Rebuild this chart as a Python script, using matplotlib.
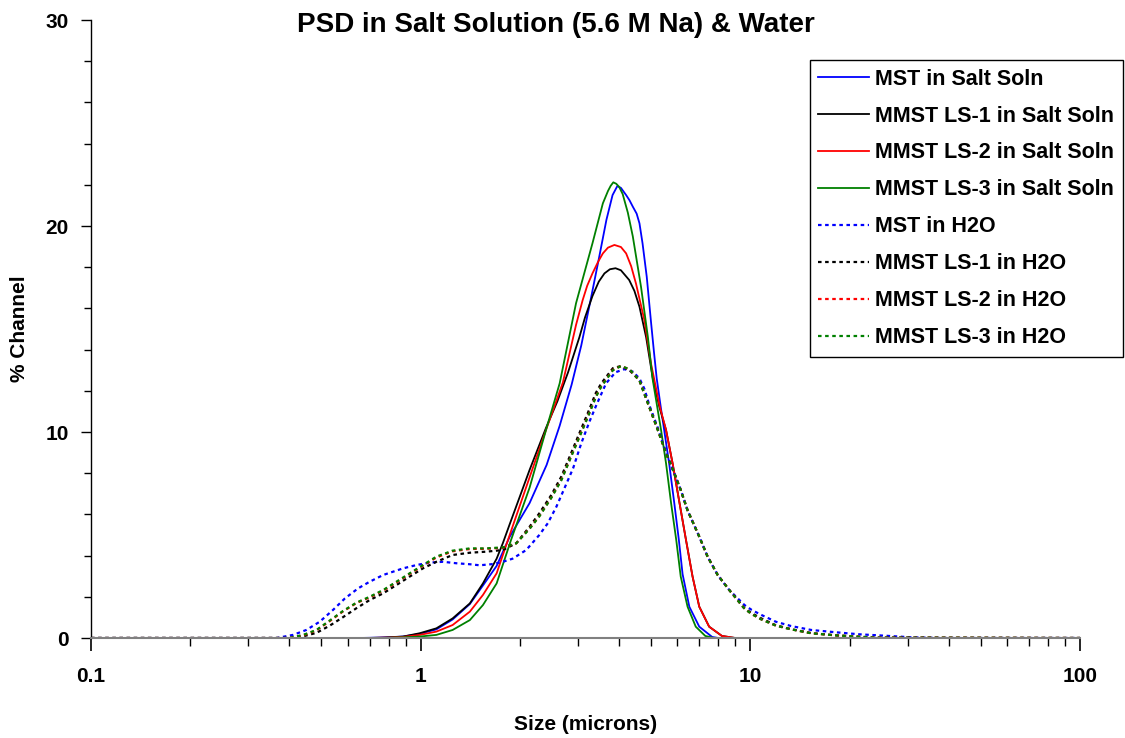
import matplotlib
matplotlib.use('Agg')
import matplotlib.pyplot as plt
from matplotlib.ticker import LogLocator, MultipleLocator, FixedFormatter, FixedLocator

plt.rcParams['font.family'] = ['Liberation Sans', 'DejaVu Sans']
plt.rcParams['font.weight'] = 'bold'

# salt solution runs (solid)
mst_salt_x = [0.1, 0.65, 0.75, 0.884, 0.993, 1.116, 1.25, 1.41, 1.545, 1.70, 1.86, 2.14, 2.41, 2.64, 2.87,
              3.07, 3.3, 3.49, 3.66, 3.82, 3.95, 4.05, 4.2, 4.3, 4.4, 4.52, 4.61, 4.71, 4.85, 5.0,
              5.1, 5.2, 5.35, 5.49, 5.68, 5.88, 6.07, 6.23, 6.53, 7.0, 7.66, 8.0, 100]
mst_salt_y = [0, 0, 0.02, 0.07, 0.2, 0.42, 0.9, 1.65, 2.55, 3.5, 4.9, 6.55, 8.4, 10.3, 12.3,
              14.2, 16.65, 18.6, 20.3, 21.5, 21.94, 21.85, 21.5, 21.25, 20.94, 20.6, 20.13, 19.16, 17.54, 15.3,
              13.9, 12.6, 11.2, 10.0, 8.4, 6.54, 4.76, 3.1, 1.52, 0.55, 0.05, 0, 0]

ls1_salt_x = [0.1, 0.68, 0.78, 0.884, 0.993, 1.116, 1.25, 1.41, 1.545, 1.70, 1.775, 1.86, 2.14, 2.4, 2.6,
              2.8, 3.03, 3.15, 3.32, 3.47, 3.61, 3.75, 3.9, 4.05, 4.29, 4.45, 4.61, 4.83, 5.05, 5.3,
              5.55, 5.81, 6.1, 6.38, 6.68, 7.0, 7.5, 8.2, 9.0, 100]
ls1_salt_y = [0, 0, 0.02, 0.07, 0.23, 0.47, 0.95, 1.68, 2.65, 3.85, 4.6, 5.5, 8.16, 10.2, 11.5,
              12.9, 14.6, 15.55, 16.6, 17.3, 17.7, 17.9, 17.95, 17.85, 17.38, 16.85, 16.08, 14.6, 12.68, 11.2,
              10.1, 8.48, 6.54, 4.76, 2.98, 1.52, 0.55, 0.1, 0, 0]

ls2_salt_x = [0.1, 0.7, 0.8, 0.884, 0.993, 1.116, 1.25, 1.41, 1.545, 1.70, 1.84, 2.14, 2.4, 2.7, 2.96,
              3.1, 3.2, 3.32, 3.45, 3.57, 3.7, 3.87, 4.05, 4.2, 4.35, 4.5, 4.77, 5.0, 5.12, 5.3,
              5.55, 5.81, 6.1, 6.38, 6.68, 7.0, 7.5, 8.2, 9.0, 100]
ls2_salt_y = [0, 0, 0.02, 0.05, 0.15, 0.31, 0.63, 1.28, 2.09, 3.14, 4.76, 7.8, 10.1, 12.4, 15.2,
              16.4, 17.1, 17.7, 18.25, 18.67, 18.95, 19.08, 18.98, 18.67, 18.05, 17.2, 15.44, 13.3, 12.5, 11.3,
              10.1, 8.48, 6.54, 4.76, 2.98, 1.52, 0.55, 0.1, 0, 0]

ls3_salt_x = [0.1, 0.75, 0.884, 0.993, 1.116, 1.25, 1.41, 1.545, 1.70, 1.88, 2.14, 2.4, 2.64, 2.96, 3.32,
              3.57, 3.7, 3.77, 3.84, 3.92, 4.0, 4.1, 4.25, 4.4, 4.66, 4.89, 5.05, 5.36, 5.55, 5.75,
              5.96, 6.15, 6.45, 6.83, 7.3, 7.75, 100]
ls3_salt_y = [0, 0, 0.03, 0.07, 0.15, 0.39, 0.87, 1.6, 2.65, 4.76, 7.3, 10.1, 12.36, 16.25, 19.16,
              21.1, 21.7, 21.95, 22.12, 22.05, 21.9, 21.55, 20.65, 19.5, 17.05, 14.6, 12.6, 10.1, 8.48, 6.54,
              4.76, 2.98, 1.52, 0.55, 0.1, 0, 0]

# water runs (dotted)
mst_h2o_x = [0.1, 0.366, 0.41, 0.45, 0.494, 0.542, 0.589, 0.646, 0.70, 0.77, 0.884, 0.97, 1.065, 1.17, 1.28,
             1.41, 1.51, 1.66, 1.775, 1.9, 2.09, 2.29, 2.43, 2.58, 2.73, 2.9, 3.07, 3.25, 3.41, 3.65,
             3.9, 4.15, 4.4, 4.61, 4.77, 4.94, 5.24, 5.55, 5.88, 6.15, 6.45, 7.0, 7.42, 7.96, 8.63,
             9.6, 10.1, 10.8, 11.95, 13.3, 15.3, 18.1, 21.4, 25.7, 31, 37.3, 100]
mst_h2o_y = [0, 0, 0.15, 0.39, 0.79, 1.36, 1.92, 2.41, 2.73, 3.06, 3.38, 3.54, 3.66, 3.7, 3.63,
             3.58, 3.53, 3.59, 3.7, 3.85, 4.27, 5.0, 5.57, 6.37, 7.27, 8.24, 9.45, 10.5, 11.3, 12.36,
             12.9, 13.05, 12.93, 12.6, 12.1, 11.3, 10.2, 9.0, 8.0, 7.2, 6.2, 4.92, 3.95, 3.06, 2.33,
             1.6, 1.36, 1.12, 0.79, 0.58, 0.39, 0.28, 0.18, 0.11, 0.03, 0, 0]

h2o_x = [0.1, 0.40, 0.44, 0.483, 0.53, 0.58, 0.639, 0.70, 0.77, 0.844, 0.926, 1.016, 1.116, 1.25, 1.41,
         1.58, 1.775, 1.95, 2.14, 2.29, 2.49, 2.67, 2.86, 3.03, 3.21, 3.4, 3.53, 3.83, 4.05, 4.3,
         4.61, 4.94, 5.24, 5.55, 5.88, 6.15, 6.45, 7.0, 7.42, 7.96, 8.63, 9.6, 10.1, 10.8, 11.95,
         13.3, 15.3, 18.1, 21.4, 24, 100]
ls1_h2o_y = [0, 0, 0.08, 0.25, 0.6, 1.0, 1.45, 1.84, 2.17, 2.57, 2.98, 3.38, 3.7, 4.03, 4.14,
             4.19, 4.27, 4.6, 5.4, 6.05, 6.94, 7.83, 8.97, 9.94, 10.9, 11.9, 12.36, 13.1, 13.2, 13.0,
             12.5, 11.2, 10.1, 8.97, 8.0, 7.18, 6.2, 4.92, 3.95, 3.06, 2.33, 1.45, 1.2, 0.95, 0.62,
             0.43, 0.24, 0.13, 0.06, 0.02, 0]
ls2_h2o_y = [0, 0, 0.13, 0.37, 0.82, 1.28, 1.7, 1.97, 2.3, 2.7, 3.11, 3.51, 3.91, 4.21, 4.32,
             4.33, 4.38, 4.6, 5.32, 5.92, 6.82, 7.68, 8.82, 9.78, 10.73, 11.73, 12.22, 13.02, 13.2, 13.04,
             12.5, 11.2, 10.1, 8.97, 8.0, 7.18, 6.2, 4.92, 3.95, 3.06, 2.33, 1.42, 1.16, 0.9, 0.6,
             0.42, 0.23, 0.13, 0.06, 0.02, 0]
ls3_h2o_y = [0, 0, 0.15, 0.39, 0.85, 1.3, 1.72, 2.0, 2.33, 2.73, 3.14, 3.54, 3.95, 4.24, 4.35,
             4.35, 4.4, 4.6, 5.3, 5.9, 6.8, 7.65, 8.8, 9.75, 10.7, 11.7, 12.2, 13.0, 13.2, 13.05,
             12.5, 11.2, 10.1, 8.97, 8.0, 7.18, 6.2, 4.92, 3.95, 3.06, 2.33, 1.42, 1.16, 0.9, 0.6,
             0.42, 0.23, 0.13, 0.06, 0.02, 0]

fig = plt.figure(figsize=(11.25, 7.38), dpi=100)
ax = fig.add_axes([91/1125, 100/738, 989/1125, 618/738])

solid = dict(lw=1.3)
dot = dict(lw=1.6, linestyle=(0, (1.6, 1.6)))
ax.plot(mst_salt_x, mst_salt_y, color='#0000ff', label='MST in Salt Soln', **solid)
ax.plot(ls1_salt_x, ls1_salt_y, color='black', label='MMST LS-1 in Salt Soln', **solid)
ax.plot(ls2_salt_x, ls2_salt_y, color='#ff0000', label='MMST LS-2 in Salt Soln', **solid)
ax.plot(ls3_salt_x, ls3_salt_y, color='#008000', label='MMST LS-3 in Salt Soln', **solid)
ax.plot(mst_h2o_x, mst_h2o_y, color='#0000ff', label='MST in H2O', **dot)
ax.plot(h2o_x, ls1_h2o_y, color='black', label='MMST LS-1 in H2O', **dot)
ax.plot(h2o_x, ls2_h2o_y, color='#ff0000', label='MMST LS-2 in H2O', **dot)
ax.plot(h2o_x, ls3_h2o_y, color='#008000', label='MMST LS-3 in H2O', **dot)

ax.set_xscale('log')
ax.set_xlim(0.1, 100)
ax.set_ylim(0, 30)
ax.xaxis.set_major_locator(FixedLocator([0.1, 1, 10, 100]))
ax.xaxis.set_major_formatter(FixedFormatter(['0.1', '1', '10', '100']))
ax.xaxis.set_minor_locator(LogLocator(base=10, subs=range(2, 10)))
ax.yaxis.set_major_locator(MultipleLocator(10))
ax.yaxis.set_minor_locator(MultipleLocator(2))

for s in ['top', 'right']:
    ax.spines[s].set_visible(False)
ax.spines['bottom'].set_color('#808080')
ax.spines['bottom'].set_linewidth(1.5)
ax.spines['left'].set_linewidth(1.0)
ax.tick_params(axis='x', which='major', length=9, width=1.2, labelsize=15, pad=12)
ax.tick_params(axis='x', which='minor', length=6, width=1.0)
ax.tick_params(axis='y', which='major', length=7, width=1.0, labelsize=15, pad=9)
ax.tick_params(axis='y', which='minor', length=5, width=1.0)

ax.set_xlabel('Size (microns)', fontsize=15, fontweight='bold', labelpad=21)
ax.set_ylabel('% Channel', fontsize=15, fontweight='bold', labelpad=12)
fig.text(0.494, 0.966, 'PSD in Salt Solution (5.6 M Na) & Water', ha='center', va='center',
         fontsize=20, fontweight='bold')

leg = ax.legend(loc='upper right', bbox_to_anchor=(1123/1125, 1 - 60/738), bbox_transform=fig.transFigure,
                borderaxespad=0, fancybox=False, framealpha=1, edgecolor='black', fontsize=15.5,
                handlelength=2.37, handletextpad=0.28, labelspacing=0.74, borderpad=0.4)
leg.get_frame().set_linewidth(1.0)
for t in leg.get_texts():
    t.set_fontweight('bold')

fig.savefig('out.png', dpi=100)
